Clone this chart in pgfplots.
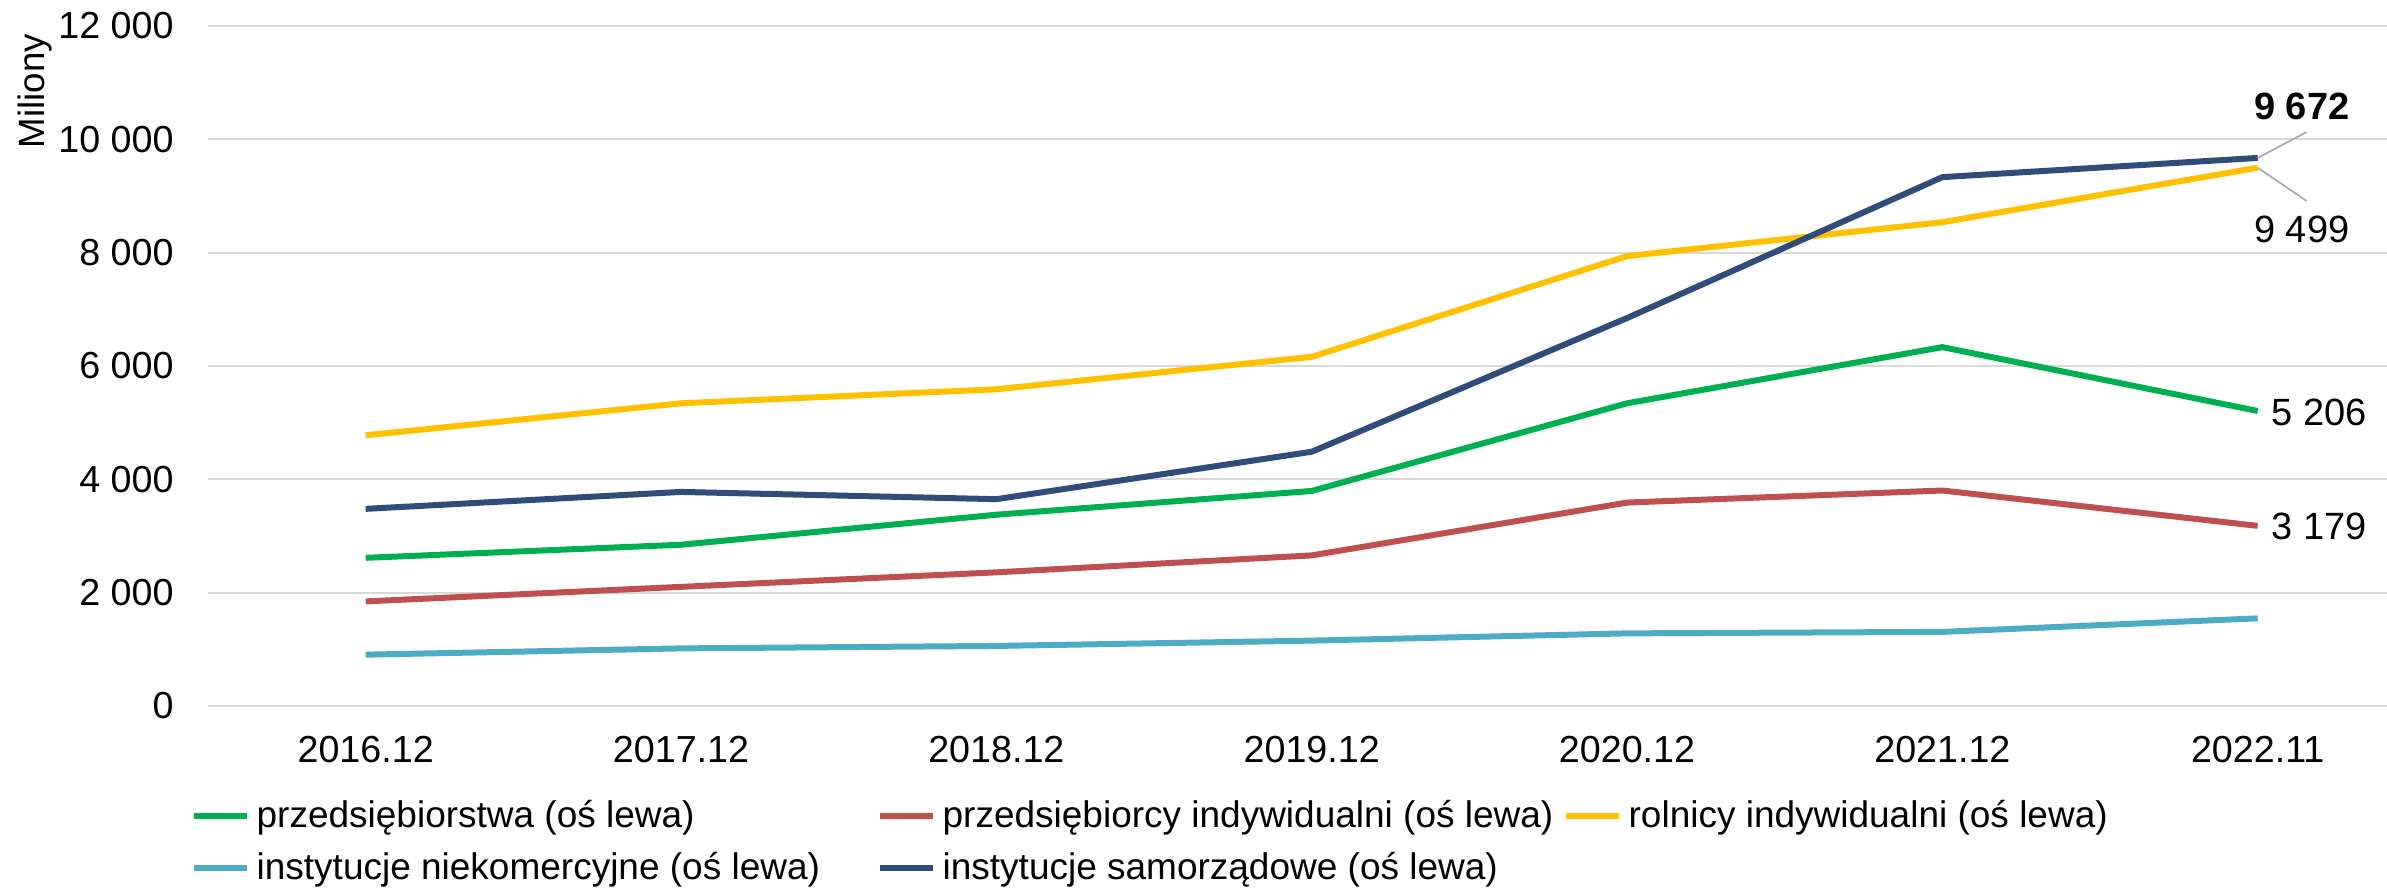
\documentclass[border=0pt]{standalone}
\usepackage{pgfplots}
\pgfplotsset{compat=1.18}
\usepackage{fontspec}
\setmainfont{Liberation Sans}
\definecolor{cgreen}{HTML}{00B050}
\definecolor{cred}{HTML}{C0504D}
\definecolor{cyellow}{HTML}{FFC000}
\definecolor{ccyan}{HTML}{4BACC6}
\definecolor{cnavy}{HTML}{2E4D7B}
\definecolor{cgrid}{HTML}{D9D9D9}
\begin{document}
\begin{tikzpicture}
\begin{axis}[
  at={(0,0)}, anchor=south west,
  scale only axis, width=653.7pt, height=204pt,
  xmin=-0.5, xmax=6.41, ymin=0, ymax=12000,
  clip=false,
  scaled y ticks=false,
  axis line style={draw=none},
  major tick length=0pt,
  ymajorgrids, grid style={cgrid, line width=0.6pt},
  xtick={0,1,2,3,4,5,6},
  xticklabels={2016.12,2017.12,2018.12,2019.12,2020.12,2021.12,2022.11},
  ytick={0,2000,4000,6000,8000,10000,12000},
  yticklabels={0,2~000,4~000,6~000,8~000,10~000,12~000},
  /pgf/number format/assume math mode=true,
  yticklabel style={font=\fontsize{11.3}{13}\selectfont, xshift=-6.8pt},
  xticklabel style={font=\fontsize{11.3}{13}\selectfont, yshift=-5.6pt},
  ylabel={Miliony},
  ylabel style={at={(axis description cs:-0.0794,0.904)}, anchor=center, rotate=0, font=\fontsize{11}{13}\selectfont},
  legend columns=3,
  legend cell align=left,
  legend image code/.code={\draw[#1] (0pt,0pt) -- (16pt,0pt);},
  legend style={at={(axis description cs:0,0)}, anchor=north west, xshift=-5.4pt, yshift=-25pt,
    draw=none, inner sep=0pt, font=\fontsize{11.1}{13}\selectfont,
    column sep=2pt, row sep=0pt,
    nodes={inner xsep=0pt, inner ysep=3pt}},
  every axis plot/.append style={line width=1.8pt, line join=round},
]
\addplot[cgreen] coordinates {(0,2615) (1,2846) (2,3376) (3,3795) (4,5342) (5,6333) (6,5206)};
\addlegendentry{\makebox[184pt][l]{przedsiębiorstwa (oś lewa)}}
\addplot[cred] coordinates {(0,1846) (1,2103) (2,2359) (3,2658) (4,3590) (5,3803) (6,3179)};
\addlegendentry{\makebox[184pt][l]{przedsiębiorcy indywidualni (oś lewa)}}
\addplot[cyellow] coordinates {(0,4778) (1,5342) (2,5590) (3,6162) (4,7940) (5,8538) (6,9499)};
\addlegendentry{\makebox[184pt][l]{rolnicy indywidualni (oś lewa)}}
\addplot[ccyan] coordinates {(0,906) (1,1017) (2,1060) (3,1154) (4,1282) (5,1308) (6,1547)};
\addlegendentry{\makebox[184pt][l]{instytucje niekomercyjne (oś lewa)}}
\addplot[cnavy] coordinates {(0,3479) (1,3778) (2,3650) (3,4487) (4,6846) (5,9333) (6,9672)};
\addlegendentry{\makebox[184pt][l]{instytucje samorządowe (oś lewa)}}
\draw[gray!70, line width=0.5pt] (axis cs:6,9672) -- (axis cs:6.155,10129);
\draw[gray!70, line width=0.5pt] (axis cs:6,9499) -- (axis cs:6.155,8912);
\node[font=\fontsize{11.4}{13}\selectfont\bfseries] at (axis cs:6.14,10588) {9~672};
\node[font=\fontsize{11.4}{13}\selectfont] at (axis cs:6.14,8418) {9~499};
\node[font=\fontsize{11.4}{13}\selectfont] at (axis cs:6.195,5188) {5~206};
\node[font=\fontsize{11.4}{13}\selectfont] at (axis cs:6.195,3176) {3~179};
\end{axis}
\pgfresetboundingbox
\path (-62.4pt,-56.1pt) rectangle (653.7pt,211.8pt);
\end{tikzpicture}
\end{document}
